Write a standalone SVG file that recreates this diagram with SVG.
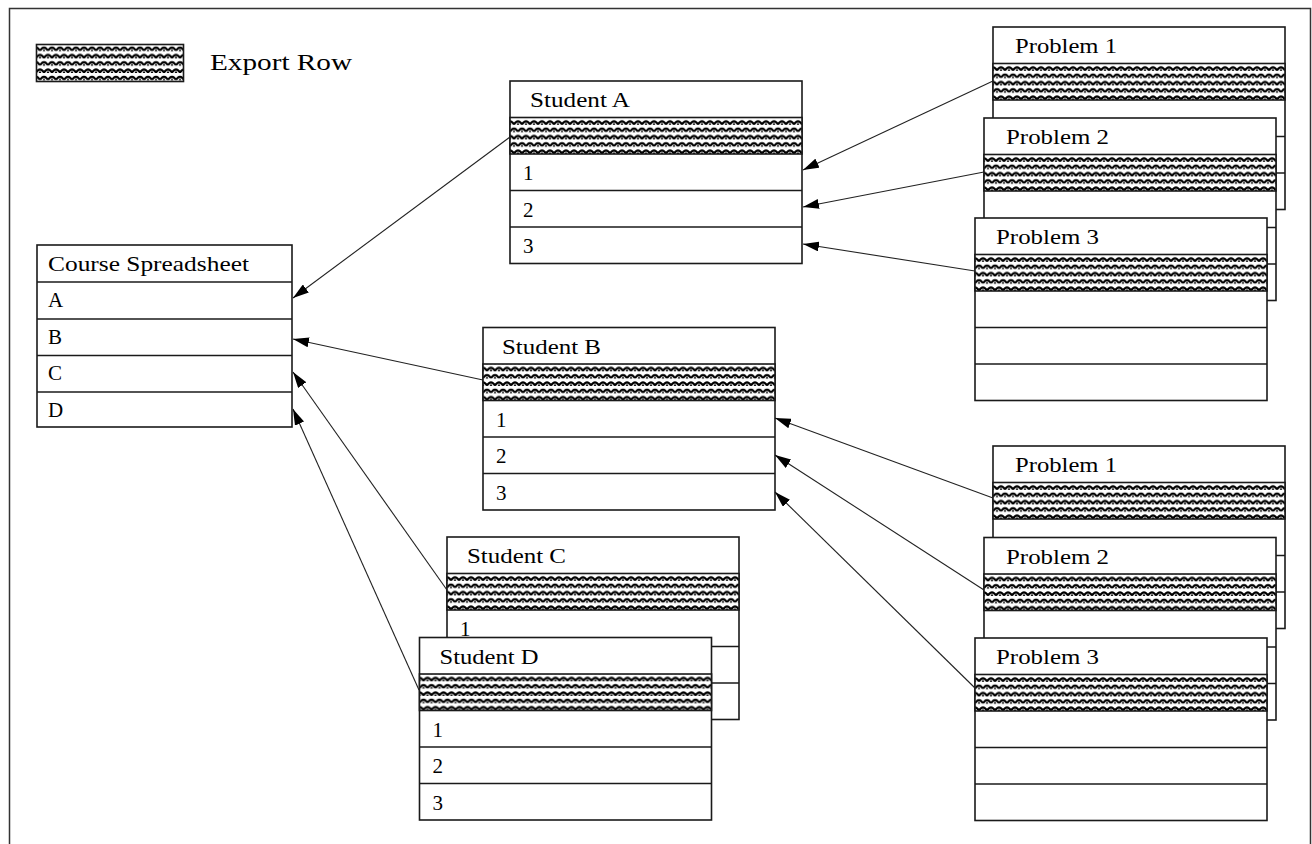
<svg xmlns="http://www.w3.org/2000/svg" xmlns:xlink="http://www.w3.org/1999/xlink" width="1312" height="844" viewBox="0 0 1312 844">
  <style>
    .frame { fill: #fff; stroke: #1a1a1a; stroke-width: 1.6; }
    .sep { stroke: #1a1a1a; stroke-width: 1.6; }
    .hatch { fill: url(#scales); stroke: #1a1a1a; stroke-width: 1.6; }
    .lbl { font-family: "Liberation Serif", "Times New Roman", serif; font-size: 21px; fill: #000; }
    .legend { font-family: "Liberation Serif", "Times New Roman", serif; font-size: 24px; fill: #000; }
    .conn { stroke: #222; stroke-width: 1.1; fill: none; marker-end: url(#arrow); }
  </style>
  <defs>
    <pattern id="scales" patternUnits="userSpaceOnUse" x="0" y="0" width="8" height="14.6">
      <rect width="8" height="14.6" fill="#fff"/>
      <path d="M0,6.8 Q4,0.6 8,6.8" fill="none" stroke="#000" stroke-width="2.1"/>
      <path d="M-4,14.1 Q0,7.9 4,14.1 M4,14.1 Q8,7.9 12,14.1" fill="none" stroke="#000" stroke-width="2.1"/>
      <path d="M2.6,7.3 L4,5.2 L5.4,7.3 Z" fill="#000"/>
      <path d="M-1.4,14.6 L0,12.5 L1.4,14.6 Z M6.6,14.6 L8,12.5 L9.4,14.6 Z" fill="#000"/>
      <path d="M-1.4,0 L0,-2.1 L1.4,0 Z M6.6,0 L8,-2.1 L9.4,0 Z" fill="#000"/>
    </pattern>
    <marker id="arrow" markerUnits="userSpaceOnUse" viewBox="0 0 16 10" refX="16" refY="5" markerWidth="16" markerHeight="10" orient="auto">
      <path d="M0,0 L16,5 L0,10 z" fill="#000"/>
    </marker>
    <clipPath id="c-row1-clip">
      <rect x="0" y="73" width="292" height="27"/>
    </clipPath>
    <g id="table">
      <rect class="frame" x="0" y="0" width="292" height="182.5"/>
      <rect class="hatch" x="0" y="36.5" width="292" height="36.5"/>
      <line class="sep" x1="0" y1="109.5" x2="292" y2="109.5"/>
      <line class="sep" x1="0" y1="146" x2="292" y2="146"/>
    </g>
  </defs>

  <rect x="0" y="0" width="1312" height="844" fill="#fff"/>
  <path d="M9.5,844 V8.5 H1310.5 V844" fill="none" stroke="#333" stroke-width="1.5"/>

  <g id="legend">
    <rect class="hatch" x="36.5" y="44.5" width="147" height="37"/>
    <text class="legend" x="210" y="70" textLength="142" lengthAdjust="spacingAndGlyphs">Export Row</text>
  </g>

  <g id="course-spreadsheet">
    <rect class="frame" x="37" y="245" width="255" height="182"/>
    <line class="sep" x1="37" y1="282" x2="292" y2="282"/>
    <line class="sep" x1="37" y1="319" x2="292" y2="319"/>
    <line class="sep" x1="37" y1="355.5" x2="292" y2="355.5"/>
    <line class="sep" x1="37" y1="392" x2="292" y2="392"/>
    <text class="lbl" x="48" y="271" textLength="201" lengthAdjust="spacingAndGlyphs">Course Spreadsheet</text>
    <text class="lbl" x="48" y="307">A</text>
    <text class="lbl" x="48" y="344">B</text>
    <text class="lbl" x="48" y="380">C</text>
    <text class="lbl" x="48" y="417">D</text>
  </g>

  <g id="student-a" transform="translate(510,81)">
    <use xlink:href="#table"/>
    <text class="lbl" x="20" y="26" textLength="100" lengthAdjust="spacingAndGlyphs">Student A</text>
    <text class="lbl" x="13" y="99">1</text>
    <text class="lbl" x="13" y="135.5">2</text>
    <text class="lbl" x="13" y="172">3</text>
  </g>

  <g id="student-b" transform="translate(483,327.5)">
    <use xlink:href="#table"/>
    <text class="lbl" x="19" y="26" textLength="99" lengthAdjust="spacingAndGlyphs">Student B</text>
    <text class="lbl" x="13" y="99">1</text>
    <text class="lbl" x="13" y="135.5">2</text>
    <text class="lbl" x="13" y="172">3</text>
  </g>

  <g id="student-c" transform="translate(447,537)">
    <use xlink:href="#table"/>
    <text class="lbl" x="20" y="26" textLength="99" lengthAdjust="spacingAndGlyphs">Student C</text>
    <text class="lbl" x="13" y="99" clip-path="url(#c-row1-clip)">1</text>
    <text class="lbl" x="13" y="135.5">2</text>
    <text class="lbl" x="13" y="172">3</text>
  </g>

  <g id="student-d" transform="translate(419.5,637.5)">
    <use xlink:href="#table"/>
    <text class="lbl" x="20" y="26" textLength="99" lengthAdjust="spacingAndGlyphs">Student D</text>
    <text class="lbl" x="13" y="99">1</text>
    <text class="lbl" x="13" y="135.5">2</text>
    <text class="lbl" x="13" y="172">3</text>
  </g>

  <g id="a-problem-1" transform="translate(993,27)">
    <use xlink:href="#table"/>
    <text class="lbl" x="22" y="26" textLength="102" lengthAdjust="spacingAndGlyphs">Problem 1</text>
  </g>
  <g id="a-problem-2" transform="translate(984,118)">
    <use xlink:href="#table"/>
    <text class="lbl" x="22" y="26" textLength="103" lengthAdjust="spacingAndGlyphs">Problem 2</text>
  </g>
  <g id="a-problem-3" transform="translate(975,218)">
    <use xlink:href="#table"/>
    <text class="lbl" x="21" y="26" textLength="103" lengthAdjust="spacingAndGlyphs">Problem 3</text>
  </g>

  <g id="b-problem-1" transform="translate(993,446)">
    <use xlink:href="#table"/>
    <text class="lbl" x="22" y="26" textLength="102" lengthAdjust="spacingAndGlyphs">Problem 1</text>
  </g>
  <g id="b-problem-2" transform="translate(984,537.5)">
    <use xlink:href="#table"/>
    <text class="lbl" x="22" y="26" textLength="103" lengthAdjust="spacingAndGlyphs">Problem 2</text>
  </g>
  <g id="b-problem-3" transform="translate(975,638)">
    <use xlink:href="#table"/>
    <text class="lbl" x="21" y="26" textLength="103" lengthAdjust="spacingAndGlyphs">Problem 3</text>
  </g>

  <g id="connectors">
    <line class="conn" x1="510" y1="137" x2="293" y2="298"/>
    <line class="conn" x1="483" y1="380" x2="293" y2="339"/>
    <line class="conn" x1="447" y1="590" x2="293" y2="372"/>
    <line class="conn" x1="419" y1="690" x2="293" y2="409"/>
    <line class="conn" x1="993" y1="81" x2="803" y2="170"/>
    <line class="conn" x1="984" y1="172" x2="803" y2="207"/>
    <line class="conn" x1="975" y1="271" x2="803" y2="244"/>
    <line class="conn" x1="993" y1="498" x2="775" y2="418"/>
    <line class="conn" x1="984" y1="590" x2="775" y2="455"/>
    <line class="conn" x1="975" y1="688" x2="775" y2="492"/>
  </g>
</svg>
